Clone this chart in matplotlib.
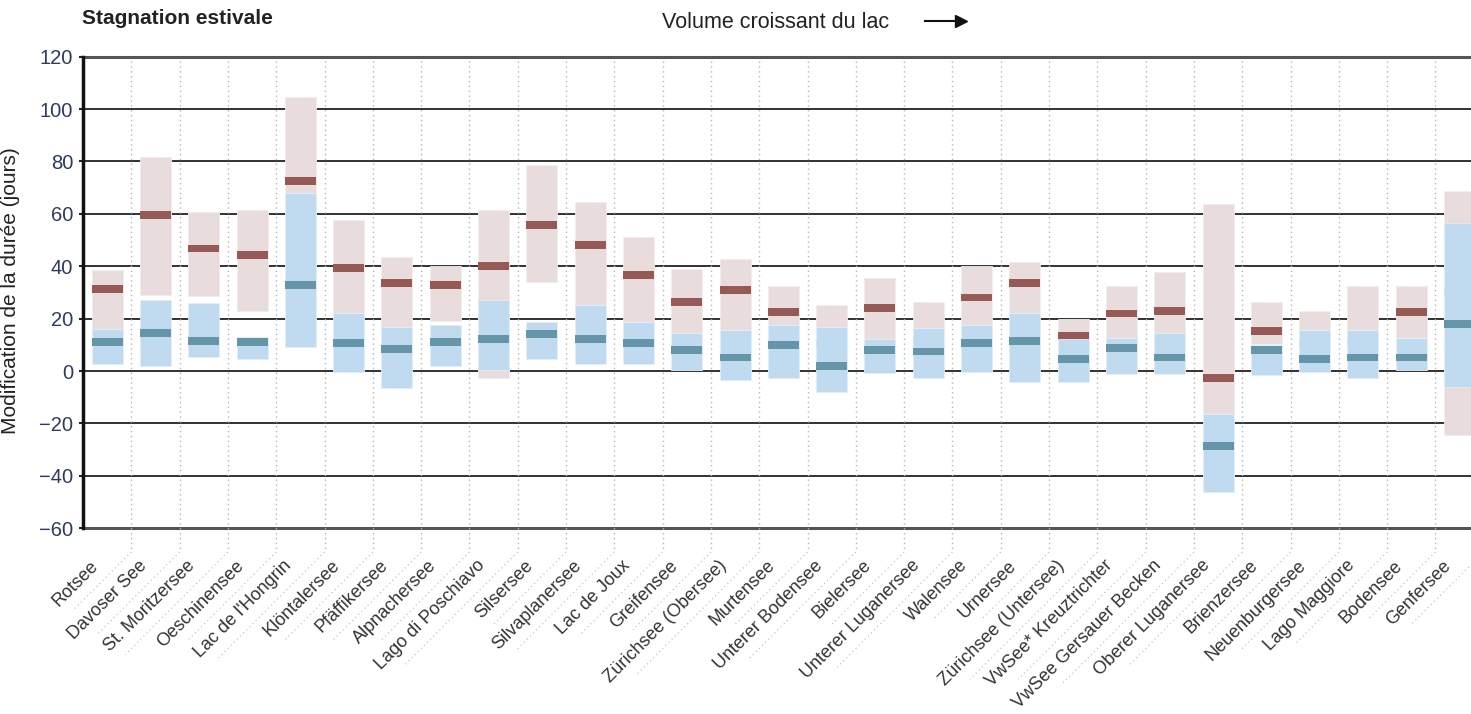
import matplotlib
matplotlib.use("Agg")
import matplotlib.pyplot as plt
from matplotlib.lines import Line2D
from matplotlib.transforms import IdentityTransform

plt.rcParams['font.family'] = ['Liberation Sans', 'DejaVu Sans']

lakes = ["Rotsee", "Davoser See", "St. Moritzersee", "Oeschinensee", "Lac de l'Hongrin",
         "Klöntalersee", "Pfäffikersee", "Alpnachersee", "Lago di Poschiavo", "Silsersee",
         "Silvaplanersee", "Lac de Joux", "Greifensee", "Zürichsee (Obersee)", "Murtensee",
         "Unterer Bodensee", "Bielersee", "Unterer Luganersee", "Walensee", "Urnersee",
         "Zürichsee (Untersee)", "VwSee* Kreuztrichter", "VwSee Gersauer Becken",
         "Oberer Luganersee", "Brienzersee", "Neuenburgersee", "Lago Maggiore",
         "Bodensee", "Genfersee"]

# red (pink) range and median
red_hi = [38.5, 81.9, 60.7, 61.3, 104.8, 57.8, 43.4, 40.0, 61.3, 78.7,
          64.5, 51.2, 39.1, 42.8, 32.6, 25.4, 35.6, 26.4, 40.3, 41.5,
          20.0, 32.6, 37.9, 63.9, 26.4, 22.9, 32.6, 32.6, 68.6]
red_lo = [16.1, 29.0, 28.6, 22.9, 68.0, 22.2, 16.8, 19.3, -2.8, 33.9,
          25.4, 18.8, 14.6, 15.6, 17.5, 16.8, 12.1, 16.3, 17.5, 22.2,
          12.1, 12.7, 14.6, -16.2, 10.4, 15.6, 15.6, 12.7, -24.5]
red_med = [31.4, 59.5, 46.8, 44.3, 72.6, 39.5, 33.5, 32.8, 40.0, 55.8,
           48.1, 36.6, 26.4, 31.1, 22.7, 10.0, 24.0, 12.0, 28.1, 33.5,
           13.5, 22.0, 23.0, -2.7, 15.4, 10.0, 11.0, 22.7, 30.0]

# blue range and median
blue_hi = [16.1, 27.0, 25.9, 13.1, 68.0, 22.2, 16.8, 17.5, 27.0, 18.7,
           25.4, 18.8, 14.6, 15.6, 17.5, 16.8, 12.1, 16.3, 17.5, 22.2,
           12.1, 12.7, 14.6, -16.2, 9.9, 15.6, 15.6, 12.7, 56.5]
blue_lo = [2.6, 1.9, 5.5, 4.8, 9.1, -0.4, -6.6, 1.9, 0.3, 4.8,
           2.6, 2.6, 0.3, -3.4, -2.8, -7.8, -0.6, -2.8, -0.4, -4.0,
           -4.0, -1.0, -1.0, -46.1, -1.6, -0.4, -2.8, 0.3, -5.9]
blue_med = [11.2, 14.5, 11.6, 11.1, 32.8, 10.6, 8.3, 11.2, 12.2, 14.2,
            12.1, 10.6, 8.1, 5.2, 10.0, 2.1, 8.1, 7.5, 10.6, 11.6,
            4.6, 8.8, 5.2, -28.5, 8.1, 4.6, 5.2, 5.2, 17.9]

yticks = [-60, -40, -20, 0, 20, 40, 60, 80, 100, 120]

W, H = 1471, 714
fig = plt.figure(figsize=(W / 100, H / 100), dpi=100)
slot_px = 48.3
ax_left = 83 / W
ax_w = 29 * slot_px / W
ax_bottom = 1 - 528.3 / H
ax_h = (528.3 - 56.7) / H
ax = fig.add_axes([ax_left, ax_bottom, ax_w, ax_h])

n = len(lakes)
xs = list(range(n))
bw = 0.64
mh = 3.0

pink = '#e8dcdc'
dred = '#955a55'
lblue = '#c0dbef'
dblue = '#6495a9'

ax.bar(xs, [h - l for h, l in zip(red_hi, red_lo)], bottom=red_lo, width=bw,
       color=pink, edgecolor='#f3ecec', linewidth=0.6, zorder=2)
ax.bar(xs, [mh] * n, bottom=[m - mh / 2 for m in red_med], width=bw,
       color=dred, linewidth=0, zorder=3)
ax.bar(xs, [h - l for h, l in zip(blue_hi, blue_lo)], bottom=blue_lo, width=bw,
       color=lblue, edgecolor='#e2eef8', linewidth=0.6, zorder=4)
ax.bar(xs, [mh] * n, bottom=[m - mh / 2 for m in blue_med], width=bw,
       color=dblue, linewidth=0, zorder=5)

ax.set_xlim(-0.5, n - 0.5)
ax.set_ylim(-60, 120)
ax.set_yticks(yticks)
ax.set_yticklabels([f"\u2212{abs(v)}" if v < 0 else str(v) for v in yticks])
ax.tick_params(axis='y', length=3, width=1.5, color='#222', labelsize=14.5,
               labelcolor='#2e3b5c', pad=4)
ax.set_xticks([])

for v in yticks[1:-1]:
    ax.axhline(v, color='#222222', linewidth=1.3, zorder=1)

ax.spines['right'].set_visible(False)
ax.spines['left'].set_color('#111111')
ax.spines['left'].set_linewidth(2.5)
ax.spines['left'].set_zorder(6)
for s in ['top', 'bottom']:
    ax.spines[s].set_color('#555555')
    ax.spines[s].set_linewidth(2.2)

ax.set_ylabel("Modification de la durée (jours)", fontsize=15, color='#222222')
ax.yaxis.set_label_coords((20 - 83) / (29 * slot_px), 0.505)

fig.canvas.draw()

# dotted separators (vertical inside plot, then diagonal between labels)
y_top_disp = H - 61
y_knee = H - 552
for i in range(n):
    xb = ax.transData.transform((i + 0.5, 0))[0]
    fig.add_artist(Line2D([xb, xb], [y_top_disp, y_knee], transform=IdentityTransform(),
                          color='#b5b5b5', linewidth=1.0, linestyle=(0, (1, 2.5)),
                          zorder=0.5))
    ln = 40 + 7.0 * len(lakes[i])
    d = ln / 1.4142
    fig.add_artist(Line2D([xb, xb - d], [y_knee, y_knee - d], transform=IdentityTransform(),
                          color='#c4c4c4', linewidth=0.9, linestyle=(0, (1, 2.5)),
                          zorder=0.5))

for i, name in enumerate(lakes):
    ax.annotate(name, xy=(i, 0), xycoords=('data', 'axes fraction'),
                xytext=(-8, -25), textcoords='offset points',
                rotation=45, rotation_mode='anchor', ha='right', va='center',
                fontsize=13, color='#333333', annotation_clip=False)

fig.text(82 / W, 1 - 18 / H, "Stagnation estivale", fontsize=15, fontweight='bold',
         color='#222222', ha='left', va='center')
fig.text(662 / W, 1 - 22 / H, "Volume croissant du lac", fontsize=15.5,
         color='#222222', ha='left', va='center')
fig.add_artist(Line2D([925 / W, 960 / W], [1 - 21 / H, 1 - 21 / H],
                      transform=fig.transFigure, color='#111111', linewidth=1.5))
fig.add_artist(Line2D([961 / W], [1 - 21 / H], transform=fig.transFigure,
                      marker='>', markersize=9, color='#111111', linewidth=0))

fig.savefig("out.png", dpi=100)
